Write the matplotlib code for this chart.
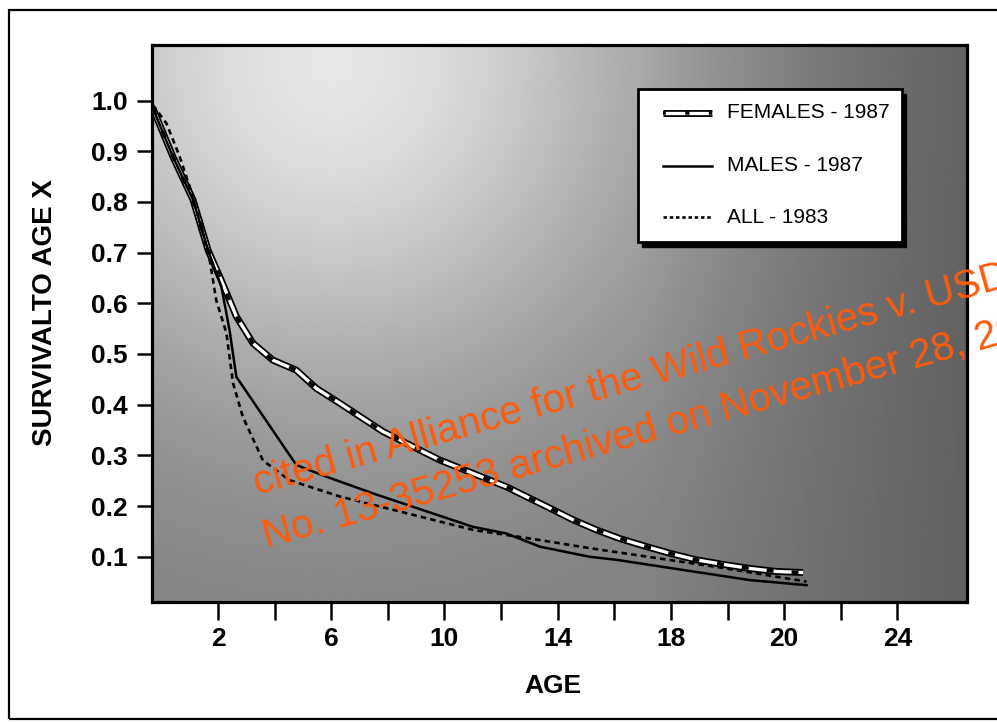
import numpy as np
import matplotlib
matplotlib.use("Agg")
import matplotlib.pyplot as plt
from matplotlib.patches import Rectangle

# values (age in years, proportion surviving)
female_age = [-0.30, 0.41, 1.12, 1.65, 2.12, 2.65, 3.24, 3.94, 4.77, 5.48, 6.30, 7.83,
              9.83, 12.19, 13.72, 14.54, 15.37, 16.19, 17.14, 18.02, 18.90, 19.84,
              20.79, 21.73, 22.67]
female_surv = [0.985, 0.889, 0.804, 0.705, 0.645, 0.574, 0.521, 0.488, 0.468, 0.432,
               0.403, 0.347, 0.291, 0.238, 0.196, 0.173, 0.153, 0.136, 0.120, 0.106,
               0.094, 0.085, 0.077, 0.071, 0.069]

male_age = [-0.30, 0.41, 1.12, 1.65, 2.12, 2.41, 2.65, 4.77, 5.83, 7.48, 9.24, 11.01,
            12.19, 13.37, 15.13, 16.08, 18.43, 20.79, 22.79]
male_surv = [0.985, 0.889, 0.804, 0.705, 0.633, 0.547, 0.455, 0.281, 0.258, 0.225,
             0.192, 0.159, 0.146, 0.120, 0.100, 0.094, 0.074, 0.054, 0.044]

all_age = [-0.30, 0.18, 0.65, 1.00, 1.35, 1.71, 1.94, 2.30, 2.53, 2.88, 3.59, 4.53,
           6.30, 8.66, 11.01, 13.37, 15.13, 19.61, 22.79]
all_surv = [0.991, 0.955, 0.889, 0.830, 0.764, 0.685, 0.606, 0.541, 0.443, 0.376,
            0.290, 0.251, 0.219, 0.186, 0.153, 0.133, 0.117, 0.080, 0.051]

labels = ["FEMALES - 1987", "MALES - 1987", "ALL - 1983"]

x_ticks = [2, 4, 6, 8, 10, 12, 14, 16, 18, 20, 22, 24, 26]
x_ticklabels = ["2", "", "6", "", "10", "", "14", "", "18", "", "20", "", "24"]
y_ticks = [0.1, 0.2, 0.3, 0.4, 0.5, 0.6, 0.7, 0.8, 0.9, 1.0]

plt.rcParams["font.family"] = ["Liberation Sans", "DejaVu Sans"]
plt.rcParams["lines.scale_dashes"] = False

W, H = 997, 723
fig = plt.figure(figsize=(W / 100, H / 100), dpi=100)
ax = fig.add_axes([151.7 / W, 1 - 601.7 / H, (967.3 - 151.7) / W, (601.7 - 45) / H])
xlim = (-0.34, 28.47)
ylim = (0.0114, 1.1095)
ax.set_xlim(*xlim)
ax.set_ylim(*ylim)

# gray shading of the plot area, lighter towards the upper left, darker on the right
nx, ny = 400, 280
u = np.linspace(0, 1, nx)
v = np.linspace(1, 0, ny)
U, V = np.meshgrid(u, v)
d = np.hypot(U - 0.22, (V - 0.97) / 1.5)
shade = 0.5 + 0.4 * np.exp(-(d / 0.4) ** 2) - 0.12 * np.clip((U - 0.6) / 0.4, 0, 1)
ax.imshow(shade, cmap="gray", vmin=0, vmax=1, extent=(*xlim, *ylim),
          aspect="auto", interpolation="bilinear", zorder=0)


def female_style(axis, x, y, **kw):
    axis.plot(x, y, color="black", lw=5.0, solid_capstyle="butt", zorder=3, **kw)
    axis.plot(x, y, color="white", lw=2.4, solid_capstyle="butt", zorder=3, **kw)
    axis.plot(x, y, color="black", lw=2.6, linestyle=(0, (5, 13)), dash_capstyle="butt",
              zorder=3, **kw)


female_style(ax, female_age, female_surv)
ax.plot(male_age, male_surv, color="black", lw=1.8, zorder=3)
ax.plot(all_age, all_surv, color="black", lw=1.9, linestyle=(0, (4, 3)), zorder=3)

# legend box drawn by hand to match the scan
lx0, ly0, lw_, lh_ = 0.5965, 0.6455, 0.3231, 0.2751
ax.add_patch(Rectangle((lx0 + 0.005, ly0 - 0.008), lw_, lh_, transform=ax.transAxes,
                       facecolor="black", edgecolor="black", zorder=4))
ax.add_patch(Rectangle((lx0, ly0), lw_, lh_, transform=ax.transAxes,
                       facecolor="white", edgecolor="black", lw=2.0, zorder=5))
rows = [0.8786, 0.7830, 0.6903]
hx = [0.6271, 0.6865]
leg_font = dict(fontsize=15, va="center", ha="left", transform=ax.transAxes, zorder=7)
ax.plot(hx, [rows[0]] * 2, transform=ax.transAxes, color="black", lw=5.0,
        solid_capstyle="butt", zorder=6)
ax.plot(hx, [rows[0]] * 2, transform=ax.transAxes, color="white", lw=2.4,
        solid_capstyle="butt", zorder=6)
ax.plot(hx, [rows[0]] * 2, transform=ax.transAxes, color="black", lw=2.6,
        linestyle=(1, (3, 14)), zorder=6)
ax.plot(hx, [rows[1]] * 2, transform=ax.transAxes, color="black", lw=1.8, zorder=6)
ax.plot(hx, [rows[2]] * 2, transform=ax.transAxes, color="black", lw=1.9,
        linestyle=(0, (2.5, 2)), zorder=6)
for r, lab in zip(rows, labels):
    ax.text(0.7048, r, lab, **leg_font)

ax.set_xticks(x_ticks)
ax.set_xticklabels(x_ticklabels)
ax.set_yticks(y_ticks)
ax.set_yticklabels([f"{t:.1f}" for t in y_ticks])
ax.tick_params(axis="x", direction="out", length=13, width=1.8, pad=5, labelsize=19)
ax.tick_params(axis="y", direction="out", length=11, width=1.8, pad=6, labelsize=19)
for lbl in ax.get_xticklabels() + ax.get_yticklabels():
    lbl.set_fontweight("bold")
for sp in ax.spines.values():
    sp.set_linewidth(2.3)

ax.set_xlabel("AGE", fontsize=19, fontweight="bold", va="center")
ax.xaxis.set_label_coords(0.4918, -0.151)
ax.set_ylabel("SURVIVALTO AGE X", fontsize=20, fontweight="bold", va="center")
ax.yaxis.set_label_coords(-0.131, 0.52)

# outer frame of the scanned page
fig.add_artist(Rectangle((9 / W, 1 - 718.5 / H), 1100 / W, (718.5 - 9.5) / H,
                         transform=fig.transFigure, fill=False, lw=1.6,
                         edgecolor="black"))

# archive stamp
stamp = dict(fontsize=29, color="#ff5a0a", rotation=15.5, rotation_mode="anchor",
             ha="left", va="baseline", zorder=20)
fig.text(256.7 / W, 1 - 495 / H, "cited in Alliance for the Wild Rockies v. USDA", **stamp)
fig.text(266.7 / W, 1 - 548 / H, "No. 13-35253 archived on November 28, 2013", **stamp)

fig.savefig("out.png", dpi=100, facecolor="white")
